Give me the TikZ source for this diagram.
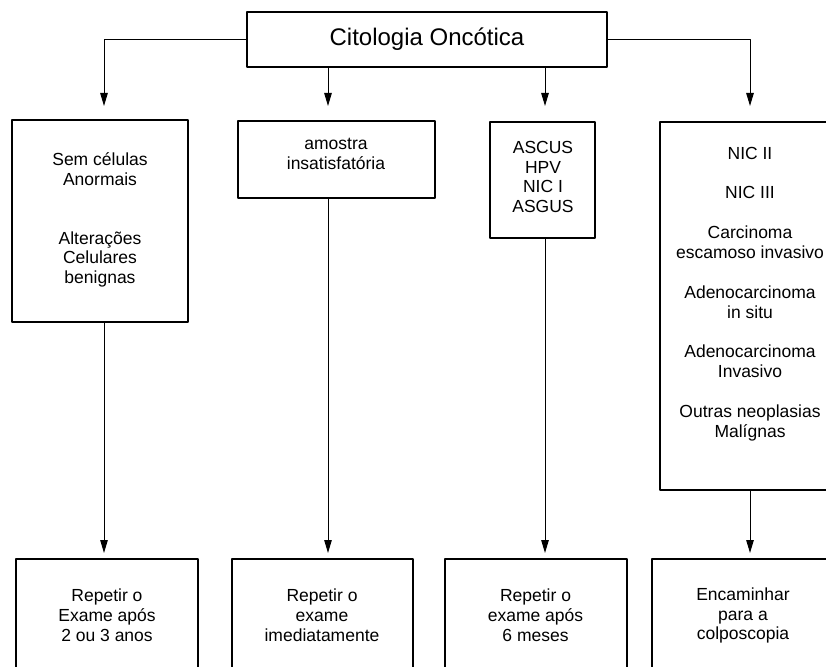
\documentclass[tikz,border=0pt]{standalone}
\usepackage{fontspec}
\setmainfont{Liberation Sans}
\usetikzlibrary{arrows.meta}
\tikzset{
	caixa/.style={draw, line width=1.1pt, inner sep=0pt},
	texto/.style={align=center, inner sep=0pt, font=\fontsize{17.5}{19.8}\selectfont},
	seta/.style={-{Triangle[length=13pt,width=7.5pt]}, line width=1pt}
}
\begin{document}
\begin{tikzpicture}[x=1pt, y=1pt, line join=round]
	\useasboundingbox (0,0) rectangle (826,-666);
	\clip (0,0) rectangle (826,-666);
	% Caixa principal
	\node[caixa, minimum width=360, minimum height=55] (topo) at (427,-39.5) {};
	\node[texto, font=\fontsize{24}{28}\selectfont] (topo-t) at (427,-39) {Citologia Oncótica};
	% Resultados
	\node[caixa, minimum width=176, minimum height=202] (normal) at (100,-221) {};
	\node[texto] (normal-t) at (100,-220) {Sem células\\Anormais\\[39pt]Alterações\\Celulares\\benignas};
	\node[caixa, minimum width=197, minimum height=77] (insat) at (336.5,-159.5) {};
	\node[texto] (insat-t) at (336,-154) {amostra\\insatisfatória};
	\node[caixa, minimum width=105, minimum height=116] (ascus) at (542.5,-180) {};
	\node[texto] (ascus-t) at (543,-177) {ASCUS\\HPV\\NIC I\\ASGUS};
	\node[caixa, minimum width=180, minimum height=368] (nic) at (750,-306) {};
	\node[texto] (nic-t) at (750,-294) {NIC II\\[20pt]NIC III\\[20pt]Carcinoma\\escamoso invasivo\\[20pt]Adenocarcinoma\\in situ\\[20pt]Adenocarcinoma\\Invasivo\\[20pt]Outras neoplasias\\Malígnas};
	% Condutas
	\node[caixa, minimum width=182, minimum height=114] (rep1) at (107,-616) {};
	\node[texto] (rep1-t) at (107,-615.5) {Repetir o\\Exame após\\2 ou 3 anos};
	\node[caixa, minimum width=181, minimum height=114] (rep2) at (322.5,-616) {};
	\node[texto] (rep2-t) at (322,-615.5) {Repetir o\\exame\\imediatamente};
	\node[caixa, minimum width=182, minimum height=114] (rep3) at (536,-616) {};
	\node[texto] (rep3-t) at (535.5,-615.5) {Repetir o\\exame após\\6 meses};
	\node[caixa, minimum width=181, minimum height=114] (enc) at (742.5,-616) {};
	\node[texto] (enc-t) at (743,-615.5) {Encaminhar\\para a\\colposcopia};
	% Pontas das setas
	\coordinate (s1) at (104,-106); \coordinate (s2) at (328,-106);
	\coordinate (s3) at (545,-106); \coordinate (s4) at (750,-106);
	\coordinate (i1) at (104,-553); \coordinate (i2) at (328,-553);
	\coordinate (i3) at (545,-553); \coordinate (i4) at (750,-553);
	\draw[seta] (topo.west) -| (s1);
	\draw[seta] (topo.east) -| (s4);
	\draw[seta] (topo.south -| s2) -- (s2);
	\draw[seta] (topo.south -| s3) -- (s3);
	\foreach \c/\p in {normal/i1, insat/i2, ascus/i3, nic/i4}
		\draw[seta] (\c.south -| \p) -- (\p);
\end{tikzpicture}
\end{document}
